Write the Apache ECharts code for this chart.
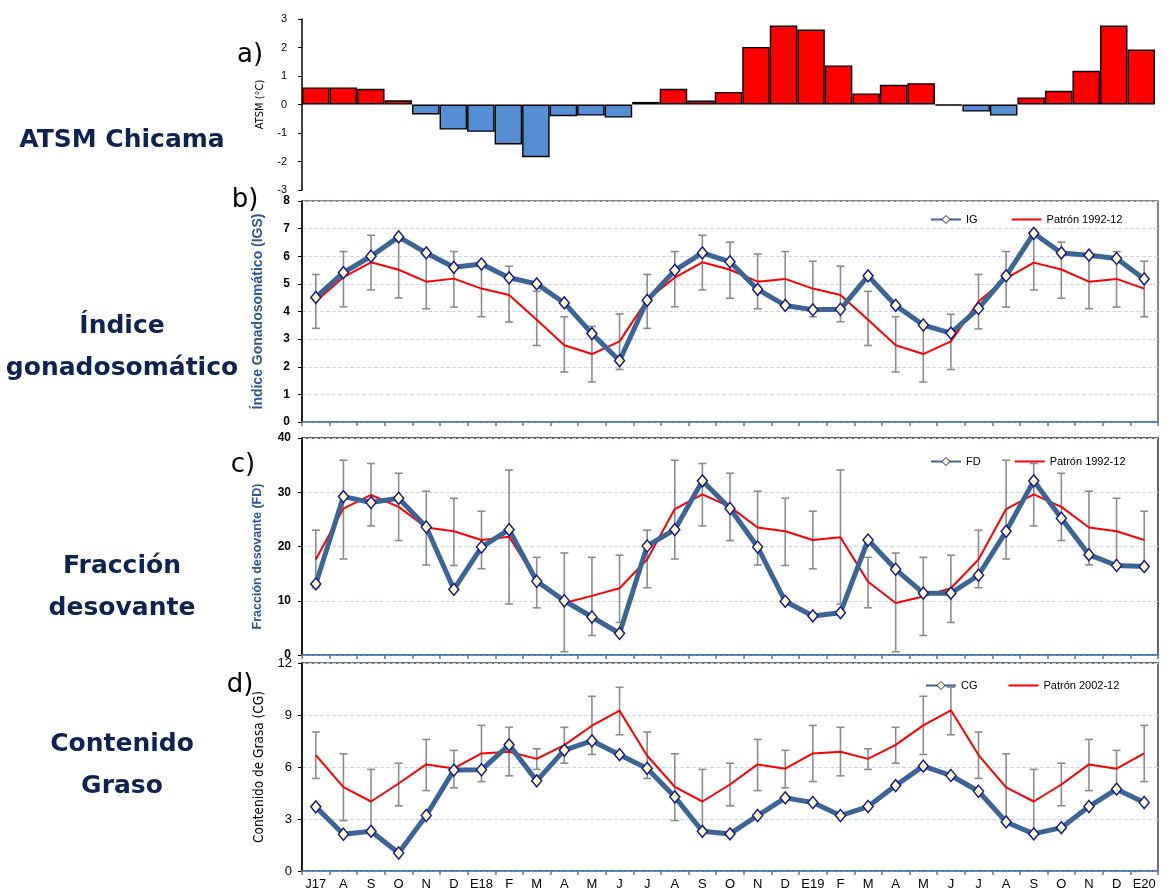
<!DOCTYPE html>
<html>
<head>
<meta charset="utf-8">
<script src="https://cdn.jsdelivr.net/npm/echarts@6/dist/echarts.min.js"></script>
<style>
html,body{margin:0;padding:0;background:#fff;}
#chart{width:1168px;height:891px;}
</style>
</head>
<body>
<div id="chart"></div>
<script>
const months = ['J17','A','S','O','N','D','E18','F','M','A','M','J','J','A','S','O','N','D','E19','F','M','A','M','J','J','A','S','O','N','D','E20'];

// a) ATSM Chicama (°C)
const atsm = [0.60,0.60,0.55,0.15,-0.35,-0.88,-0.96,-1.40,-1.85,-0.41,-0.39,-0.46,0.09,0.55,0.14,0.44,2.02,2.77,2.63,1.37,0.39,0.69,0.75,-0.03,-0.25,-0.39,0.25,0.48,1.18,2.77,1.93];

// b) Índice gonadosomático
const ig = [4.51,5.41,6.00,6.70,6.12,5.60,5.72,5.22,5.00,4.31,3.20,2.22,4.40,5.49,6.12,5.80,4.80,4.22,4.06,4.08,5.29,4.22,3.51,3.22,4.11,5.29,6.83,6.12,6.04,5.92,5.18];
const igPatron = [4.36,5.24,5.78,5.51,5.08,5.19,4.83,4.60,3.70,2.78,2.46,2.92,4.42,5.23,5.78,5.51,5.08,5.18,4.83,4.60,3.70,2.78,2.46,2.92,4.36,5.20,5.77,5.52,5.08,5.18,4.83];
const igHigh = [5.34,6.17,6.76,6.55,6.08,6.17,5.82,5.64,4.73,3.81,3.46,3.91,5.34,6.17,6.76,6.51,6.08,6.17,5.82,5.64,4.73,3.81,3.46,3.90,5.34,6.17,6.76,6.51,6.08,6.17,5.82];
const igLow  = [3.39,4.17,4.78,4.49,4.10,4.16,3.81,3.62,2.77,1.81,1.45,1.90,3.39,4.17,4.78,4.48,4.10,4.16,3.81,3.63,2.77,1.81,1.45,1.90,3.37,4.16,4.78,4.48,4.10,4.16,3.81];

// c) Fracción desovante
const fd = [13.1,29.2,28.1,28.9,23.6,12.1,19.9,23.1,13.6,10.0,7.0,4.0,20.1,23.1,32.1,27.0,19.9,9.9,7.2,7.8,21.2,15.8,11.4,11.4,14.7,22.8,32.1,25.2,18.5,16.5,16.3];
const fdPatron = [17.6,27.0,29.5,27.3,23.5,22.8,21.2,21.8,13.7,9.6,10.9,12.3,17.6,26.9,29.6,27.3,23.5,22.8,21.2,21.7,13.5,9.6,10.8,12.3,17.6,26.9,29.6,27.3,23.5,22.8,21.2];
const fdHigh = [23.0,35.9,35.3,33.5,30.2,28.9,26.5,34.1,18.0,18.8,18.0,18.4,23.0,35.9,35.3,33.5,30.2,28.9,26.5,34.1,18.0,18.8,18.0,18.4,23.0,35.9,35.3,33.5,30.2,28.9,26.5];
const fdLow  = [12.4,17.7,23.8,21.1,16.6,16.5,15.9,9.4,8.7,0.6,3.6,6.0,12.4,17.7,23.8,21.1,16.6,16.5,15.9,9.4,8.7,0.6,3.6,6.0,12.4,17.7,23.8,21.1,16.6,16.5,15.9];

// d) Contenido graso
const cg = [3.70,2.12,2.29,1.04,3.20,5.82,5.84,7.28,5.20,6.97,7.51,6.71,5.92,4.28,2.29,2.14,3.20,4.22,3.95,3.20,3.72,4.93,6.05,5.51,4.60,2.83,2.14,2.50,3.72,4.72,3.95];
const cgPatron = [6.69,4.84,4.01,5.05,6.15,5.92,6.78,6.88,6.47,7.26,8.38,9.25,6.65,4.86,4.01,4.99,6.15,5.90,6.78,6.88,6.47,7.28,8.40,9.27,6.69,4.82,4.01,4.99,6.15,5.90,6.78];
const cgHigh = [8.02,6.76,5.86,6.22,7.59,6.96,8.40,8.29,7.05,8.29,10.08,10.60,8.02,6.76,5.86,6.22,7.59,6.96,8.40,8.29,7.05,8.29,10.08,10.60,8.02,6.76,5.86,6.22,7.59,6.96,8.40];
const cgLow  = [5.34,2.91,2.16,3.76,4.64,4.80,5.16,5.49,5.86,6.22,6.72,7.86,5.34,2.91,2.16,3.76,4.64,4.80,5.16,5.49,5.86,6.22,6.72,7.86,5.34,2.91,2.16,3.76,4.64,4.80,5.16];

const FONT = "'Liberation Sans', Arial, sans-serif";
const NARROW = "'Liberation Sans Narrow', 'DejaVu Sans Condensed', 'Liberation Sans', sans-serif";
const NAVY = '#0E2352';
const BLUE_LINE = '#3B6594';
const AXIS_BLUE = '#4A7EBB';

function errData(lo, hi){ return lo.map((v,i)=>[i, v, hi[i]]); }
function errRender(params, api){
  const x = api.value(0);
  const p1 = api.coord([x, api.value(2)]);
  const p2 = api.coord([x, api.value(1)]);
  const w = 8;
  const style = {stroke:'#8C8C8C', lineWidth:1.6};
  return {type:'group', children:[
    {type:'line', shape:{x1:p1[0], y1:p1[1], x2:p2[0], y2:p2[1]}, style},
    {type:'line', shape:{x1:p1[0]-w/2, y1:p1[1], x2:p1[0]+w/2, y2:p1[1]}, style},
    {type:'line', shape:{x1:p2[0]-w/2, y1:p2[1], x2:p2[0]+w/2, y2:p2[1]}, style}
  ]};
}
function errSeries(idx, lo, hi){
  return {type:'custom', xAxisIndex:idx, yAxisIndex:idx, renderItem:errRender,
    data:errData(lo,hi), encode:{x:0, y:[1,2]}, z:1, silent:true};
}
function mainLine(name, idx, data){
  return {name, type:'line', xAxisIndex:idx, yAxisIndex:idx, data,
    symbol:'diamond', symbolSize:[10,12], showAllSymbol:true,
    lineStyle:{color:BLUE_LINE, width:5},
    itemStyle:{color:'#FFFFCC', borderColor:'#1A1A8C', borderWidth:1.5},
    z:4, animation:false};
}
function patronLine(name, idx, data){
  return {name, type:'line', xAxisIndex:idx, yAxisIndex:idx, data,
    symbol:'none', lineStyle:{color:'#FF0000', width:2}, itemStyle:{color:'#FF0000'},
    z:3, animation:false};
}
function xAx(idx, showLabels){
  return {type:'category', gridIndex:idx, data:months, boundaryGap:true,
    axisLine:{show:idx!==0, onZero:false, lineStyle:{color:AXIS_BLUE, width:1.5}},
    axisTick:{show:idx!==0, length:4, lineStyle:{color:AXIS_BLUE, width:1.5}},
    axisLabel:{show:showLabels, color:'#000', fontFamily:FONT, fontSize:13, margin:7, interval:0},
    splitLine:{show:false}};
}
function yAx(idx, min, max, interval, name, nameStyle, nameGap, labelStyle, grid){
  return {type:'value', gridIndex:idx, min, max, interval,
    name, nameLocation:'middle', nameGap, nameTextStyle:nameStyle,
    axisLine:{show:true, lineStyle:{color:'#000', width:1.5}},
    axisTick:{show:true, length:4, lineStyle:{color:'#000'}},
    axisLabel:Object.assign({color:'#000', fontFamily:FONT, margin:10}, labelStyle),
    splitLine:{show:grid, lineStyle:{color:'#C6D9F1', type:'dashed', width:1}}};
}
const hideSym = {color:'rgba(0,0,0,0)', borderWidth:0, borderColor:'rgba(0,0,0,0)'};
function legend(top, left, gap, mainName, patName){
  return {top, left, itemGap:gap, itemWidth:30, itemHeight:10,
    data:[{name:mainName, itemStyle:{borderWidth:1}}, {name:patName, itemStyle:hideSym}],
    textStyle:{fontFamily:FONT, fontSize:11, color:'#000'}};
}

const chart = echarts.init(document.getElementById('chart'), null, {renderer:'canvas'});
const option = {
  backgroundColor:'#fff',
  animation:false,
  grid:[
    {left:302, right:13, top:19, height:171},
    {left:302, right:10, top:201, height:221, show:true, borderColor:'#606060', borderWidth:1.5},
    {left:302, right:10, top:438, height:217, show:true, borderColor:'#303030', borderWidth:1.5},
    {left:302, right:10, top:663, height:208, show:true, borderColor:'#404040', borderWidth:1.5}
  ],
  xAxis:[xAx(0,false), xAx(1,false), xAx(2,false), xAx(3,true)],
  yAxis:[
    yAx(0,-3,3,1,'ATSM (°C)',{fontFamily:NARROW, fontSize:11, color:'#000'},36,{fontSize:11, margin:15}, false),
    yAx(1,0,8,1,'Índice Gonadosomático (IGS)',{fontFamily:FONT, fontSize:14, fontWeight:'bold', color:'#2C5596'},37,{fontSize:12, fontWeight:'bold', margin:12}, true),
    yAx(2,0,40,10,'Fracción desovante (FD)',{fontFamily:FONT, fontSize:12.5, fontWeight:'bold', color:'#2C5596', padding:[0,20,0,0]},38,{fontSize:12, fontWeight:'bold', margin:11}, true),
    yAx(3,0,12,3,'Contenido de Grasa (CG)',{fontFamily:NARROW, fontSize:13.5, color:'#000'},24,{fontSize:13}, true)
  ],
  legend:[
    legend(209, 925, 33, 'IG', 'Patrón 1992-12'),
    legend(451, 925, 33, 'FD', 'Patrón 1992-12 '),
    legend(675, 920, 30, 'CG', 'Patrón 2002-12')
  ],
  series:[
    {name:'ATSM', type:'bar', xAxisIndex:0, yAxisIndex:0, data:atsm, barCategoryGap:'0%',
      itemStyle:{color:(p)=> p.value >= 0 ? '#FF0000' : '#558ED5', borderColor:'#000', borderWidth:1.4}},
    errSeries(1, igLow, igHigh),
    patronLine('Patrón 1992-12', 1, igPatron),
    mainLine('IG', 1, ig),
    errSeries(2, fdLow, fdHigh),
    patronLine('Patrón 1992-12 ', 2, fdPatron),
    mainLine('FD', 2, fd),
    errSeries(3, cgLow, cgHigh),
    patronLine('Patrón 2002-12', 3, cgPatron),
    mainLine('CG', 3, cg)
  ],
  graphic:[
    {type:'text', x:122, y:140, style:{text:'ATSM Chicama', font:"bold 25px 'DejaVu Sans'", fill:NAVY, align:'center', verticalAlign:'middle'}},
    {type:'text', x:122, y:347, style:{text:'Índice\ngonadosomático', font:"bold 25px 'DejaVu Sans'", lineHeight:42, fill:NAVY, align:'center', verticalAlign:'middle'}},
    {type:'text', x:122, y:587, style:{text:'Fracción\ndesovante', font:"bold 25px 'DejaVu Sans'", lineHeight:42, fill:NAVY, align:'center', verticalAlign:'middle'}},
    {type:'text', x:122, y:765, style:{text:'Contenido\nGraso', font:"bold 25px 'DejaVu Sans'", lineHeight:42, fill:NAVY, align:'center', verticalAlign:'middle'}},
    {type:'text', x:250, y:55, style:{text:'a)', font:"26px 'DejaVu Sans'", fill:'#000', align:'center', verticalAlign:'middle'}},
    {type:'text', x:245, y:200, style:{text:'b)', font:"26px 'DejaVu Sans'", fill:'#000', align:'center', verticalAlign:'middle'}},
    {type:'text', x:243, y:465, style:{text:'c)', font:"26px 'DejaVu Sans'", fill:'#000', align:'center', verticalAlign:'middle'}},
    {type:'text', x:240, y:685, style:{text:'d)', font:"26px 'DejaVu Sans'", fill:'#000', align:'center', verticalAlign:'middle'}}
  ]
};
chart.setOption(option);
</script>
</body>
</html>
